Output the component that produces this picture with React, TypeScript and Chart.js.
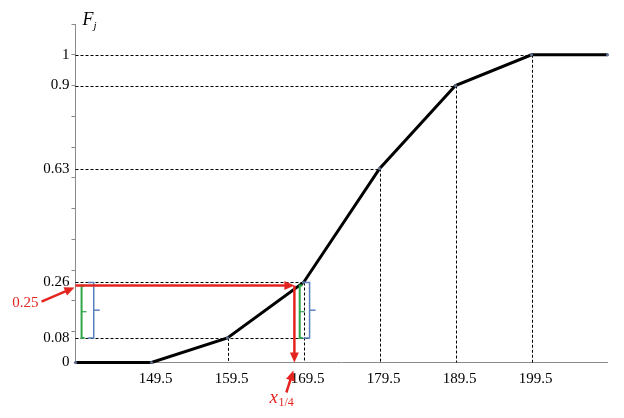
import React, { useEffect, useRef } from "react";
import { Chart, registerables } from "chart.js";

Chart.register(...registerables);

// ---- data ----
const classBounds = [139.5, 149.5, 159.5, 169.5, 179.5, 189.5, 199.5, 209.5];
const cumFreq = [0, 0, 0.08, 0.26, 0.63, 0.9, 1, 1];
const xTickLabels = [149.5, 159.5, 169.5, 179.5, 189.5, 199.5];
const yTickLabels = [0, 0.08, 0.26, 0.63, 0.9, 1];
const yMinorTicks = [0.1, 0.2, 0.3, 0.4, 0.5, 0.6, 0.7, 0.8, 0.9, 1, 1.1];
// guide lines: horizontal (level -> end x) and vertical (x -> level)
const guideLevels = [1, 0.9, 0.63, 0.26, 0.08];
const guideLevelEnds = [199.5, 189.5, 179.5, 170.3, 170.3];
const dropXs = [159.5, 169.5, 179.5, 189.5, 199.5];
const dropLevels = [0.08, 0.26, 0.63, 0.9, 1];
// quartile construction
const quartileLevel = 0.25;
const quartileX = 168.3;
const bracketLow = 0.08;
const bracketHigh = 0.26;
const greenBracketXs = [140.3, 169.0];
const blueBracketXs = [141.9, 170.3];

const RED = "#e3241f";
const GREEN = "#2ea64a";
const BLUE = "#5a80c0";
const SERIF = "'Liberation Serif', 'DejaVu Serif', serif";

function arrow(ctx: CanvasRenderingContext2D, x1: number, y1: number, x2: number, y2: number, color: string, w: number, head: number) {
  const a = Math.atan2(y2 - y1, x2 - x1);
  ctx.save();
  ctx.strokeStyle = color;
  ctx.fillStyle = color;
  ctx.lineWidth = w;
  ctx.setLineDash([]);
  ctx.beginPath();
  ctx.moveTo(x1, y1);
  ctx.lineTo(x2 - Math.cos(a) * head * 0.8, y2 - Math.sin(a) * head * 0.8);
  ctx.stroke();
  ctx.beginPath();
  ctx.moveTo(x2, y2);
  ctx.lineTo(x2 - head * Math.cos(a) + head * 0.45 * Math.sin(a), y2 - head * Math.sin(a) - head * 0.45 * Math.cos(a));
  ctx.lineTo(x2 - head * Math.cos(a) - head * 0.45 * Math.sin(a), y2 - head * Math.sin(a) + head * 0.45 * Math.cos(a));
  ctx.closePath();
  ctx.fill();
  ctx.restore();
}

const guidesPlugin = {
  id: "guides",
  beforeDatasetsDraw(chart: any) {
    const { ctx, scales } = chart;
    const xs = scales.x, ys = scales.y;
    const x0 = xs.getPixelForValue(classBounds[0]);
    const y0 = ys.getPixelForValue(0);
    ctx.save();
    ctx.strokeStyle = "#000";
    ctx.lineWidth = 1;
    ctx.setLineDash([3, 2]);
    guideLevels.forEach((lv, i) => {
      const y = Math.round(ys.getPixelForValue(lv)) + 0.5;
      ctx.beginPath();
      ctx.moveTo(x0, y);
      ctx.lineTo(xs.getPixelForValue(guideLevelEnds[i]), y);
      ctx.stroke();
    });
    dropXs.forEach((xv, i) => {
      const x = Math.round(xs.getPixelForValue(xv)) + 0.5;
      ctx.beginPath();
      ctx.moveTo(x, ys.getPixelForValue(dropLevels[i]));
      ctx.lineTo(x, y0);
      ctx.stroke();
    });
    ctx.restore();
  },
  afterDatasetsDraw(chart: any) {
    const { ctx, scales } = chart;
    const xs = scales.x, ys = scales.y;
    const x0 = xs.getPixelForValue(classBounds[0]);
    const y0 = ys.getPixelForValue(0);
    const yq = ys.getPixelForValue(quartileLevel);
    const xq = xs.getPixelForValue(quartileX);
    const yLo = ys.getPixelForValue(bracketLow);
    const yHi = ys.getPixelForValue(bracketHigh);

    // green brackets
    ctx.save();
    ctx.setLineDash([]);
    greenBracketXs.forEach((bv) => {
      const x = xs.getPixelForValue(bv);
      ctx.strokeStyle = GREEN;
      ctx.lineWidth = 2;
      ctx.beginPath();
      ctx.moveTo(x + 3, yq);
      ctx.lineTo(x, yq);
      ctx.lineTo(x, yLo);
      ctx.lineTo(x + 3, yLo);
      ctx.stroke();
      ctx.lineWidth = 1.2;
      ctx.beginPath();
      ctx.moveTo(x, (yq + yLo) / 2);
      ctx.lineTo(x + 5, (yq + yLo) / 2);
      ctx.stroke();
    });
    blueBracketXs.forEach((bv) => {
      const x = xs.getPixelForValue(bv);
      ctx.strokeStyle = BLUE;
      ctx.lineWidth = 1.5;
      ctx.beginPath();
      ctx.moveTo(x - 6, yHi);
      ctx.lineTo(x, yHi);
      ctx.lineTo(x, yLo);
      ctx.lineTo(x - 6, yLo);
      ctx.stroke();
      ctx.beginPath();
      ctx.moveTo(x, (yHi + yLo) / 2);
      ctx.lineTo(x + 6, (yHi + yLo) / 2);
      ctx.stroke();
    });
    ctx.restore();

    // red arrows
    arrow(ctx, x0, yq, xq, yq, RED, 2.5, 10);
    arrow(ctx, xq, yq, xq, y0, RED, 2.5, 10);
    arrow(ctx, x0 - 34, yq + 16, x0 - 1, yq + 2, RED, 2.5, 10);
    arrow(ctx, xq - 8, y0 + 30, xq - 1, y0 + 8, RED, 2.5, 10);

    ctx.save();
    ctx.fillStyle = RED;
    ctx.font = `15px ${SERIF}`;
    ctx.textAlign = "right";
    ctx.textBaseline = "middle";
    ctx.fillText("0.25", x0 - 37, yq + 17);
    ctx.textAlign = "left";
    ctx.textBaseline = "alphabetic";
    ctx.font = `italic 19px ${SERIF}`;
    const lx = xq - 25;
    const ly = y0 + 40;
    ctx.fillText("x", lx, ly);
    ctx.font = `12px ${SERIF}`;
    ctx.fillText("1/4", lx + 9, ly + 3);
    ctx.restore();

    // axis title F_j
    ctx.save();
    ctx.fillStyle = "#000";
    ctx.font = `italic 18px ${SERIF}`;
    ctx.textBaseline = "alphabetic";
    ctx.fillText("F", x0 + 7, 25);
    ctx.font = `italic 11px ${SERIF}`;
    ctx.fillText("j", x0 + 18, 29);
    ctx.restore();
  },
};

export default function App() {
  const ref = useRef<HTMLCanvasElement | null>(null);
  useEffect(() => {
    if (!ref.current) return;
    const chart = new Chart(ref.current, {
      type: "line",
      data: {
        datasets: [
          {
            data: classBounds.map((x, i) => ({ x, y: cumFreq[i] })),
            borderColor: "#000",
            borderWidth: 3,
            pointRadius: 1.6,
            pointBackgroundColor: "#5b6e8c",
            pointBorderWidth: 0,
            tension: 0,
            clip: false as any,
          },
        ],
      },
      options: {
        animation: false,
        responsive: false,
        events: [],
        layout: { padding: { left: 0, right: 16.5, top: 24, bottom: 0 } },
        plugins: { legend: { display: false }, tooltip: { enabled: false } },
        scales: {
          x: {
            type: "linear",
            min: classBounds[0],
            max: classBounds[classBounds.length - 1],
            afterBuildTicks: (s: any) => {
              s.ticks = xTickLabels.map((v) => ({ value: v }));
            },
            afterFit: (s: any) => {
              s.height = 55.5;
            },
            grid: { display: true, drawOnChartArea: false, drawTicks: false },
            border: { color: "#8a8a8a", width: 1 },
            ticks: {
              autoSkip: false,
              maxRotation: 0,
              padding: 8,
              labelOffset: 4,
              color: "#000",
              font: { family: SERIF, size: 15 },
              callback: (v: any) => String(v),
            },
          },
          y: {
            type: "linear",
            min: 0,
            max: 1.1,
            afterBuildTicks: (s: any) => {
              const vals = Array.from(new Set([...yTickLabels, ...yMinorTicks].map((v) => Math.round(v * 100) / 100))).sort((a, b) => a - b);
              s.ticks = vals.map((v) => ({ value: v }));
            },
            afterFit: (s: any) => {
              s.width = 75.5;
            },
            grid: {
              drawOnChartArea: false,
              drawTicks: true,
              tickLength: 4,
              tickColor: (c: any) => {
                const v = c.tick ? c.tick.value : 0;
                return yMinorTicks.some((m) => Math.abs(m - v) < 1e-6) ? "#8a8a8a" : "rgba(0,0,0,0)";
              },
              color: "rgba(0,0,0,0)",
            },
            border: { color: "#8a8a8a", width: 1 },
            ticks: {
              autoSkip: false,
              padding: 2,
              color: "#000",
              font: { family: SERIF, size: 15 },
              callback: (v: any) => {
                const n = Number(v);
                return yTickLabels.some((t) => Math.abs(t - n) < 1e-6) ? String(Math.round(n * 100) / 100) : "";
              },
            },
          },
        },
      },
      plugins: [guidesPlugin],
    } as any);
    return () => chart.destroy();
  }, []);
  return (
    <div style={{ position: "fixed", left: 0, top: 0, width: 624, height: 418, background: "#fff" }}>
      <canvas ref={ref} width={624} height={418} style={{ display: "block" }} />
    </div>
  );
}
